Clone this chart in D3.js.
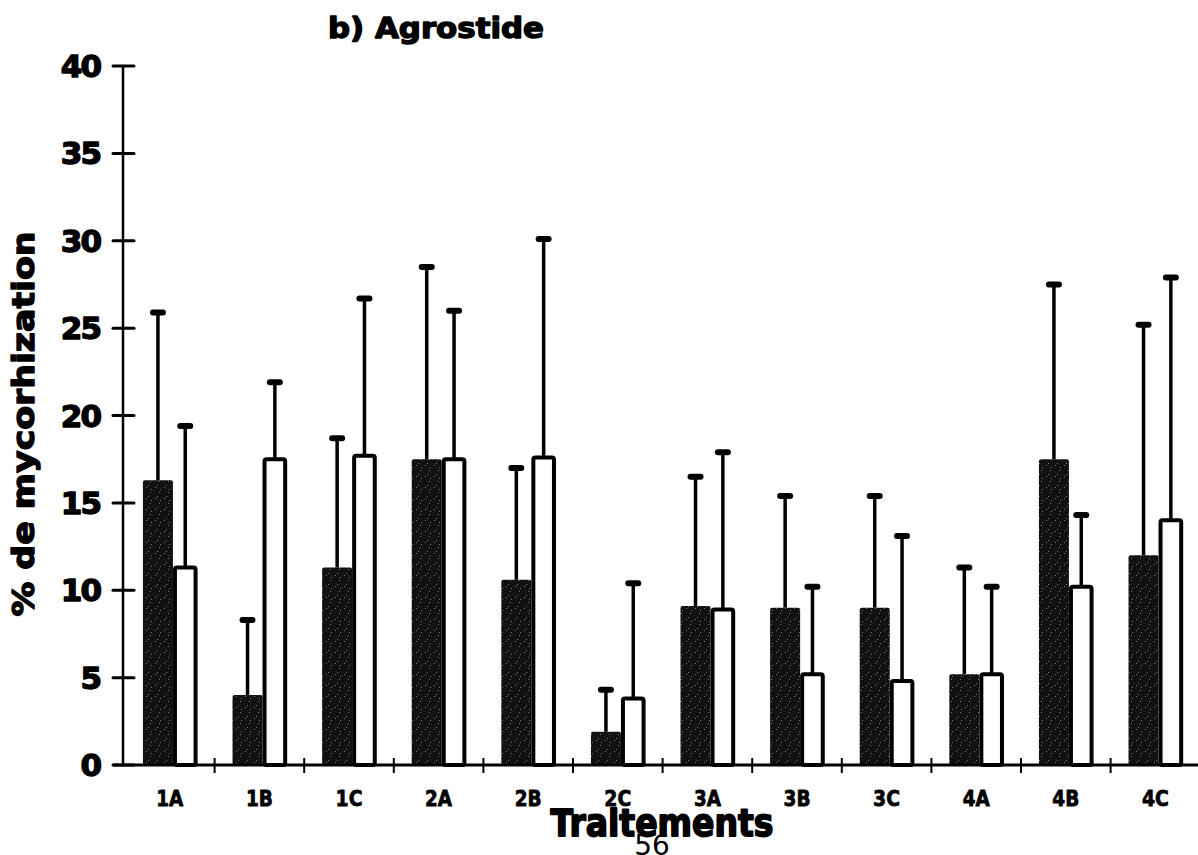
<!DOCTYPE html>
<html>
<head>
<meta charset="utf-8">
<script src="https://cdn.jsdelivr.net/npm/d3@7"></script>
<style>
  html, body { margin: 0; padding: 0; background: #fff; }
  svg { display: block; }
  text { font-family: "DejaVu Sans", sans-serif; font-weight: bold; fill: #000; }
  .heavy { stroke: #000; stroke-width: 1.4px; stroke-linejoin: round; }
</style>
</head>
<body>
<svg id="chart" width="1198" height="855"></svg>
<script>
// ── data ────────────────────────────────────────────────────
const categories = ['1A', '1B', '1C', '2A', '2B', '2C', '3A', '3B', '3C', '4A', '4B', '4C'];
const darkMean  = [16.3, 4.0, 11.3, 17.5, 10.6, 1.9, 9.1, 9.0, 9.0, 5.2, 17.5, 12.0];
const darkErr   = [9.6, 4.3, 7.4, 11.0, 6.4, 2.4, 7.4, 6.4, 6.4, 6.1, 10.0, 13.2];
const whiteMean = [11.3, 17.5, 17.7, 17.5, 17.6, 3.8, 8.9, 5.2, 4.8, 5.2, 10.2, 14.0];
const whiteErr  = [8.1, 4.4, 9.0, 8.5, 12.5, 6.6, 9.0, 5.0, 8.3, 5.0, 4.1, 13.9];
const yTicks = [0, 5, 10, 15, 20, 25, 30, 35, 40];

// ── layout ──────────────────────────────────────────────────
const svg = d3.select('#chart');
const axisX = 123, yBase = 765, yTop = 66;

const x = d3.scaleBand().domain(categories).range([125, 125 + 12 * 89.6]).padding(0);
const y = d3.scaleLinear().domain([0, 40]).range([yBase, yTop]);
const bw = x.bandwidth();

// speckled dark fill
const defs = svg.append('defs');
const pat = defs.append('pattern').attr('id', 'speck')
  .attr('patternUnits', 'userSpaceOnUse').attr('width', 9).attr('height', 11);
pat.append('rect').attr('width', 9).attr('height', 11).attr('fill', '#111');
[[2, 3], [6, 8], [4, 1], [7, 5]].forEach(([cx, cy]) =>
  pat.append('rect').attr('x', cx).attr('y', cy).attr('width', 1).attr('height', 1)
    .attr('fill', '#777'));

const g = svg.append('g');

// dark bars
const darkX = c => x(c) + bw * 0.2;
const darkW = bw * 0.335;
g.selectAll('.dark').data(categories).enter().append('rect')
  .attr('class', 'dark')
  .attr('x', d => darkX(d))
  .attr('width', darkW)
  .attr('y', (d, i) => y(darkMean[i]))
  .attr('height', (d, i) => yBase - y(darkMean[i]))
  .attr('rx', 2)
  .attr('fill', 'url(#speck)');

// white bars
const whiteX = c => darkX(c) + darkW + 2;
const whiteW = bw * 0.275 - 4;
g.selectAll('.white').data(categories).enter().append('rect')
  .attr('class', 'white')
  .attr('x', d => whiteX(d))
  .attr('width', whiteW)
  .attr('y', (d, i) => y(whiteMean[i]))
  .attr('height', (d, i) => yBase - y(whiteMean[i]))
  .attr('rx', 2)
  .attr('fill', '#fff').attr('stroke', '#000').attr('stroke-width', 4);

// error bars (upper only)
function errBars(cls, cx, mean, err) {
  const eg = g.selectAll('.' + cls).data(categories).enter().append('g').attr('class', cls);
  eg.append('line')
    .attr('x1', d => cx(d)).attr('x2', d => cx(d))
    .attr('y1', (d, i) => y(mean[i]))
    .attr('y2', (d, i) => y(mean[i] + err[i]))
    .attr('stroke', '#000').attr('stroke-width', 3.5);
  eg.append('rect')
    .attr('x', d => cx(d) - 8).attr('width', 16)
    .attr('y', (d, i) => y(mean[i] + err[i]) - 3).attr('height', 6)
    .attr('rx', 3).attr('fill', '#000');
}
errBars('err-dark', d => darkX(d) + darkW / 2, darkMean, darkErr);
errBars('err-white', d => whiteX(d) + whiteW / 2, whiteMean, whiteErr);

// axes
const yAxis = svg.append('g');
yAxis.append('line').attr('x1', axisX).attr('x2', axisX).attr('y1', yTop).attr('y2', yBase)
  .attr('stroke', '#000').attr('stroke-width', 2.5);
yAxis.selectAll('.yt').data(yTicks).enter().append('line')
  .attr('x1', axisX - 10).attr('x2', axisX + 11)
  .attr('y1', d => y(d)).attr('y2', d => y(d))
  .attr('stroke', '#000').attr('stroke-width', 3).attr('stroke-linecap', 'round');
yAxis.selectAll('.yl').data(yTicks).enter().append('text')
  .attr('class', 'heavy')
  .attr('x', 100).attr('y', d => y(d) + 11)
  .attr('text-anchor', 'end').attr('font-size', 31)
  .attr('letter-spacing', -2)
  .text(d => d);

const xAxis = svg.append('g');
xAxis.append('line').attr('x1', axisX - 10).attr('x2', 1198).attr('y1', yBase).attr('y2', yBase)
  .attr('stroke', '#000').attr('stroke-width', 3);
xAxis.selectAll('.xt').data(categories.slice(1)).enter().append('line')
  .attr('x1', d => x(d)).attr('x2', d => x(d))
  .attr('y1', yBase - 7).attr('y2', yBase + 8)
  .attr('stroke', '#000').attr('stroke-width', 2);
xAxis.selectAll('.xl').data(categories).enter().append('text')
  .attr('class', 'heavy')
  .attr('x', d => x(d) + bw / 2).attr('y', 806)
  .attr('text-anchor', 'middle').attr('font-size', 22)
  .attr('textLength', 27).attr('lengthAdjust', 'spacingAndGlyphs')
  .style('stroke-width', '0.8px')
  .text(d => d);

// titles
svg.append('text').attr('class', 'heavy')
  .attr('x', 436).attr('y', 38).attr('text-anchor', 'middle')
  .attr('font-size', 29).attr('textLength', 216).attr('lengthAdjust', 'spacingAndGlyphs')
  .text('b) Agrostide');
svg.append('text').attr('class', 'heavy')
  .attr('x', 662).attr('y', 836).attr('text-anchor', 'middle')
  .attr('font-size', 38).attr('textLength', 223).attr('lengthAdjust', 'spacingAndGlyphs')
  .style('stroke-width', '1.8px')
  .text('Traitements');
svg.append('text').attr('class', 'heavy')
  .attr('transform', 'translate(34,424) rotate(-90)')
  .attr('text-anchor', 'middle').attr('font-size', 31)
  .attr('textLength', 385).attr('lengthAdjust', 'spacingAndGlyphs')
  .text('% de mycorhization');
svg.append('text').attr('x', 652).attr('y', 855).attr('text-anchor', 'middle')
  .attr('font-size', 28)
  .style('font-weight', 'normal')
  .text('56');
</script>
</body>
</html>
